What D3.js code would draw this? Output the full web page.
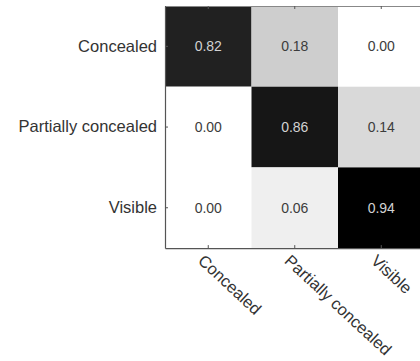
<!DOCTYPE html>
<html>
<head>
<meta charset="utf-8">
<script src="https://cdn.jsdelivr.net/npm/d3@7/dist/d3.min.js"></script>
<style>
  html, body { margin: 0; padding: 0; background: #fff; }
  svg { display: block; }
  text { font-family: "Liberation Sans", Arial, Helvetica, sans-serif; }
</style>
</head>
<body>
<svg id="chart" width="420" height="361"></svg>
<script>
// Confusion matrix: rows = true class, columns = predicted class
const trueClasses = ["Concealed", "Partially concealed", "Visible"];
const predictedClasses = ["Concealed", "Partially concealed", "Visible"];
const rowConcealed = [0.82, 0.18, 0.00];
const rowPartial = [0.00, 0.86, 0.14];
const rowVisible = [0.00, 0.06, 0.94];
const matrixRows = [rowConcealed, rowPartial, rowVisible];

(function drawMatrix() {
  const svg = d3.select("#chart");
  const margin = { left: 165, top: 6 };
  const cellW = 86.5, cellH = 80.7;
  const width = cellW * predictedClasses.length;
  const height = cellH * trueClasses.length;

  const x = d3.scaleBand().domain(predictedClasses).range([0, width]);
  const y = d3.scaleBand().domain(trueClasses).range([0, height]);

  const maxVal = d3.max(matrixRows.flat());
  const shade = d3.scaleLinear().domain([0, maxVal]).range([255, 0]);
  const fillOf = v => { const k = Math.round(shade(v)); return `rgb(${k},${k},${k})`; };

  const g = svg.append("g").attr("transform", `translate(${margin.left},${margin.top})`);

  const cells = [];
  matrixRows.forEach((row, i) => row.forEach((v, j) => cells.push({ r: trueClasses[i], c: predictedClasses[j], v })));

  g.selectAll("rect.cell").data(cells).join("rect")
    .attr("class", "cell")
    .attr("x", d => x(d.c))
    .attr("y", d => y(d.r))
    .attr("width", x.bandwidth())
    .attr("height", y.bandwidth())
    .attr("fill", d => fillOf(d.v));

  g.selectAll("text.val").data(cells).join("text")
    .attr("class", "val")
    .attr("x", d => x(d.c) + x.bandwidth() / 2)
    .attr("y", d => y(d.r) + y.bandwidth() / 2)
    .attr("text-anchor", "middle")
    .attr("dominant-baseline", "central")
    .attr("font-size", 14)
    .attr("fill", d => d.v > maxVal / 2 ? "#d2d2d2" : "#3c3c3c")
    .text(d => d.v.toFixed(2));

  // Axes box with inward ticks
  const axisColor = "#555";
  const styleAxis = sel => {
    sel.select(".domain").attr("stroke", axisColor).attr("stroke-width", 1.2);
    sel.selectAll(".tick line").attr("stroke", axisColor);
  };

  const bottomAxis = g.append("g").attr("transform", `translate(0,${height})`)
    .call(d3.axisBottom(x).tickSizeInner(-3).tickSizeOuter(0).tickFormat(""));
  styleAxis(bottomAxis);

  const topAxis = g.append("g")
    .call(d3.axisTop(x).tickSizeInner(-3).tickSizeOuter(0).tickFormat(""));
  styleAxis(topAxis);
  topAxis.select(".domain").attr("stroke", "#888");

  const leftAxis = g.append("g")
    .call(d3.axisLeft(y).tickSizeInner(-3).tickSizeOuter(0).tickPadding(8));
  styleAxis(leftAxis);
  leftAxis.selectAll(".tick text")
    .attr("font-size", 16.5)
    .attr("fill", "#333")
    .attr("font-family", "'Liberation Sans', Arial, sans-serif");

  // Rotated predicted-class labels
  g.append("g").selectAll("text.xl").data(predictedClasses).join("text")
    .attr("class", "xl")
    .attr("transform", d => `translate(${x(d) + x.bandwidth() / 2 - 3},${height + 5}) rotate(43)`)
    .attr("text-anchor", "start")
    .attr("dominant-baseline", "hanging")
    .attr("font-size", 16.5)
    .attr("fill", "#333")
    .text(d => d);
})();
</script>
</body>
</html>
